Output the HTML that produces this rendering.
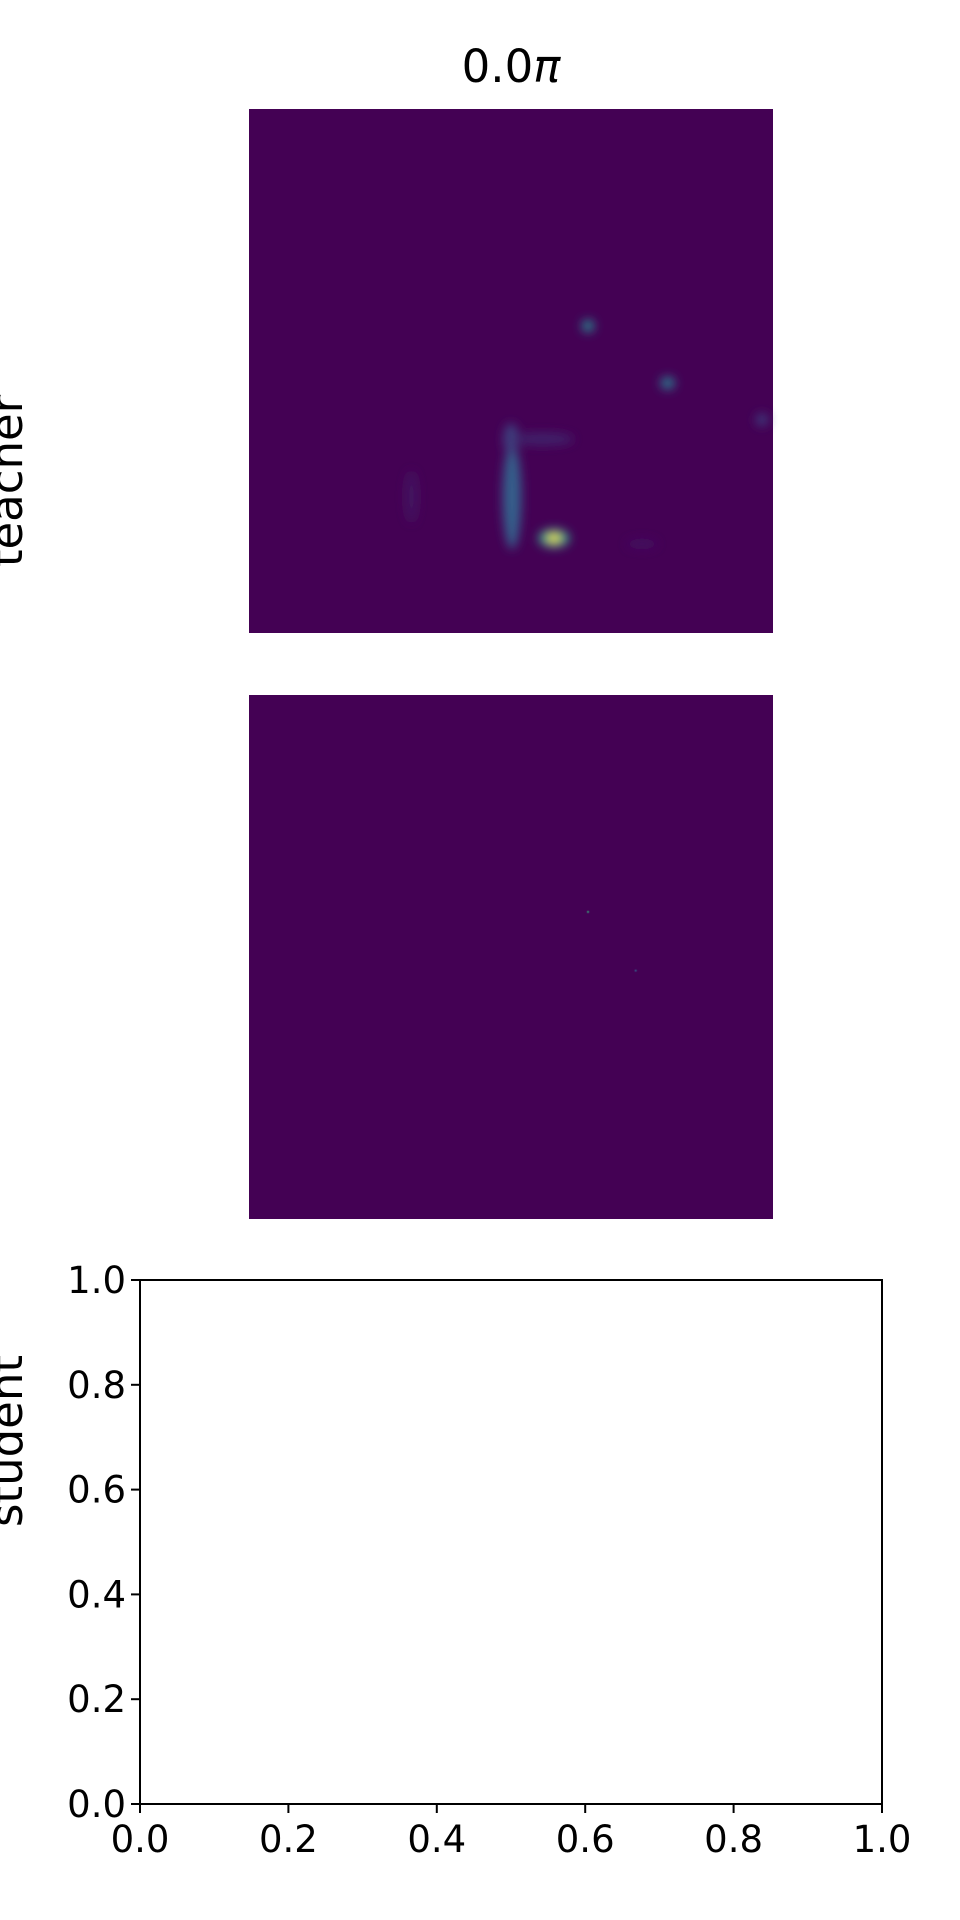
<!DOCTYPE html>
<html><head><meta charset="utf-8"><style>
html,body{margin:0;padding:0;background:#fff;}
svg{display:block;font-family:"DejaVu Sans","Liberation Sans",sans-serif;}
</style></head><body>
<svg id="fig" width="960" height="1920" viewBox="0 0 960 1920">
<defs>
<filter id="b1" x="-200%" y="-200%" width="500%" height="500%"><feGaussianBlur stdDeviation="5"/></filter>
<filter id="b0" x="-200%" y="-200%" width="500%" height="500%"><feGaussianBlur stdDeviation="0.6"/></filter>
</defs>
<text x="511" y="82" font-size="45" text-anchor="middle">0.0<tspan font-style="italic">π</tspan></text>
<text transform="translate(22,481) rotate(-90)" font-size="45" text-anchor="middle">teacher</text>
<text transform="translate(22,1441) rotate(-90)" font-size="45" text-anchor="middle">student</text>
<g id="hm1"></g>
<g id="hm2"></g>
<g id="ax"></g>
</svg>
<script>
// heatmap blobs: x fraction, y fraction, x-extent, y-extent, intensity
const teacherX = [0.647, 0.799, 0.979, 0.502, 0.50, 0.56, 0.31, 0.75, 0.582, 0.582];
const teacherY = [0.414, 0.523, 0.593, 0.74, 0.63, 0.63, 0.74, 0.83, 0.819, 0.819];
const teacherW = [0.012, 0.014, 0.012, 0.018, 0.014, 0.06, 0.012, 0.03, 0.03, 0.012];
const teacherH = [0.012, 0.012, 0.012, 0.1, 0.03, 0.012, 0.05, 0.01, 0.018, 0.008];
const teacherV = [0.45, 0.4, 0.18, 0.3, 0.2, 0.1, 0.06, 0.05, 0.55, 1.0];
const studentX = [0.647, 0.738];
const studentY = [0.414, 0.526];
const studentV = [0.6, 0.3];
const xTicks = [0, 0.2, 0.4, 0.6, 0.8, 1.0];
const yTicks = [0, 0.2, 0.4, 0.6, 0.8, 1.0];
const tickLabels = ["0.0","0.2","0.4","0.6","0.8","1.0"];

const NS = "http://www.w3.org/2000/svg";
function mk(tag, attrs, parent){const e=document.createElementNS(NS,tag);for(const k in attrs)e.setAttribute(k,attrs[k]);parent.appendChild(e);return e;}
function viridis(t){
  const stops=[[68,1,84],[59,82,139],[33,145,140],[94,201,98],[253,231,37]];
  t=Math.max(0,Math.min(1,t));const s=t*4,i=Math.min(3,Math.floor(s)),f=s-i;
  const c=stops[i].map((v,k)=>Math.round(v+(stops[i+1][k]-v)*f));
  return `rgb(${c[0]},${c[1]},${c[2]})`;
}
function drawHeat(g, x0, y0, size, xs, ys, ws, hs, vs, filt){
  const sx=v=>x0+v*size, sy=v=>y0+v*size;
  const bg=mk('rect',{x:x0,y:y0,width:size,height:size,fill:'#440154'},g);
  
  
  const inner=mk('g',{filter:`url(#${filt})`},g);
  for(let i=0;i<xs.length;i++){
    const e=mk('ellipse',{cx:sx(xs[i]),cy:sy(ys[i]),rx:ws[i]*size,ry:hs[i]*size,fill:viridis(vs[i])},inner);
    
    
  }
}
drawHeat(document.getElementById('hm1'),249,109,524,teacherX,teacherY,teacherW,teacherH,teacherV,'b1');
drawHeat(document.getElementById('hm2'),249,695,524,studentX,studentY,studentX.map(()=>0.002),studentY.map(()=>0.002),studentV,'b0');

// empty axes
const ax=document.getElementById('ax');
const L=140,R=882,T=1280,B=1804;
const xs=v=>L+v*(R-L), ys=v=>B-v*(B-T);
const fr=mk('rect',{x:L,y:T,width:R-L,height:B-T,fill:'none',stroke:'#000','stroke-width':2},ax);


xTicks.forEach((v,i)=>{
  mk('line',{x1:xs(v),x2:xs(v),y1:B,y2:B+9,stroke:'#000','stroke-width':2},ax);
  const t=mk('text',{x:xs(v),y:B+48,'font-size':37,'text-anchor':'middle'},ax);
  t.textContent=tickLabels[i];
  
  
});
yTicks.forEach((v,i)=>{
  mk('line',{x1:L-9,x2:L,y1:ys(v),y2:ys(v),stroke:'#000','stroke-width':2},ax);
  const t=mk('text',{x:L-14,y:ys(v)+13,'font-size':37,'text-anchor':'end'},ax);
  t.textContent=tickLabels[i];
  
  
});
</script>
</body></html>
